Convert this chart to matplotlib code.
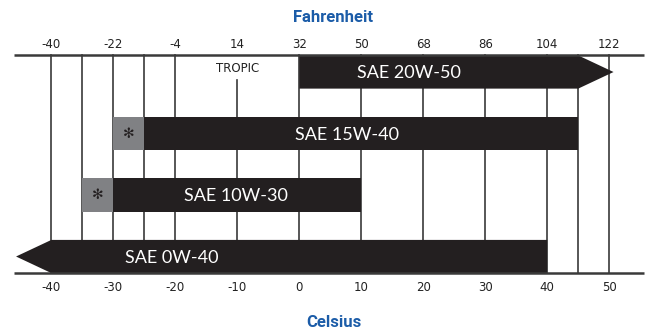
import matplotlib
matplotlib.use("Agg")
import matplotlib.pyplot as plt
from matplotlib.patches import Polygon, Rectangle

# ---- data ----
oils = ["SAE 20W-50", "SAE 15W-40", "SAE 10W-30", "SAE 0W-40"]
start_c = [0, -25, -30, -40]          # start of black bar (°C)
end_c = [45, 45, 10, 40]              # end of black bar (°C)
gray_start_c = [None, -30, -35, None] # start of grey "*" box (°C)
arrow_dir = ["right", None, None, "left"]
arrow_len_c = 5.7
label_x_c = [17.7, 7.7, -10.2, -20.5]

celsius_ticks = [-40, -30, -20, -10, 0, 10, 20, 30, 40, 50]
fahrenheit_ticks = [-40, -22, -4, 14, 32, 50, 68, 86, 104, 122]
grid_c = [-40, -35, -30, -25, -20, -10, 0, 10, 20, 30, 40, 45, 50]
tropic_c = -10

# ---- style ----
BAR = "#231f20"
GREY = "#808184"
LINE = "#3a3a3a"
BLUE = "#1b5ca8"
tick_font = ["Liberation Sans Narrow", "DejaVu Sans"]
bar_font = ["Lato", "DejaVu Sans"]

fig = plt.figure(figsize=(6.48, 3.30), dpi=100)
ax = fig.add_axes([0, 0, 1, 1])
ax.set_xlim(-48.29, 56.26)
ax.set_ylim(4.195, -1.171)
ax.axis("off")

h = 0.54
top_y = -h / 2
bot_y = len(oils) - 1 + h / 2

# horizontal frame lines
ax.plot([-46.0, 55.6], [top_y, top_y], color=LINE, lw=1.8, zorder=3, solid_capstyle="butt")
ax.plot([-46.0, 55.6], [bot_y, bot_y], color=LINE, lw=1.8, zorder=3, solid_capstyle="butt")

# vertical grid lines
for g in grid_c:
    y0 = 0.13 if g == tropic_c else top_y
    ax.plot([g, g], [y0, bot_y], color=LINE, lw=1.2, zorder=1)

ax.text(tropic_c, -0.06, "TROPIC", ha="center", va="center", fontsize=8.5,
        family=tick_font, color="#222222")

for i, name in enumerate(oils):
    s, e = start_c[i], end_c[i]
    y1, y2 = i - h / 2, i + h / 2
    if arrow_dir[i] == "right":
        pts = [(s, y1), (e, y1), (e + arrow_len_c, i), (e, y2), (s, y2)]
    elif arrow_dir[i] == "left":
        pts = [(s, y1), (e, y1), (e, y2), (s, y2), (s - arrow_len_c, i)]
    else:
        pts = [(s, y1), (e, y1), (e, y2), (s, y2)]
    ax.add_patch(Polygon(pts, closed=True, facecolor=BAR, edgecolor="none", zorder=2))
    if gray_start_c[i] is not None:
        gs = gray_start_c[i]
        ax.add_patch(Rectangle((gs, y1), s - gs, h, facecolor=GREY, edgecolor="none", zorder=2))
        ax.text((gs + s) / 2, i, "✻", ha="center", va="center", fontsize=10,
                color=BAR, family="DejaVu Sans", zorder=4)
    ax.text(label_x_c[i], i + 0.02, name, ha="center", va="center", fontsize=13,
            color="white", family=bar_font, zorder=4)

# tick labels
for c in celsius_ticks:
    ax.text(c, 3.50, str(c), ha="center", va="center", fontsize=8.5,
            family=tick_font, color="#222222")
for f in fahrenheit_ticks:
    c = (f - 32) * 5 / 9
    ax.text(c, -0.455, str(f), ha="center", va="center", fontsize=8.5,
            family=tick_font, color="#222222")

ax.text(5.5, -0.894, "Fahrenheit", ha="center", va="center", fontsize=12,
        fontweight="bold", family=["Roboto", "DejaVu Sans"], color=BLUE)
ax.text(5.5, 4.065, "Celsius", ha="center", va="center", fontsize=12,
        fontweight="bold", family=["Roboto", "DejaVu Sans"], color=BLUE)

fig.savefig("out.png", dpi=100)
